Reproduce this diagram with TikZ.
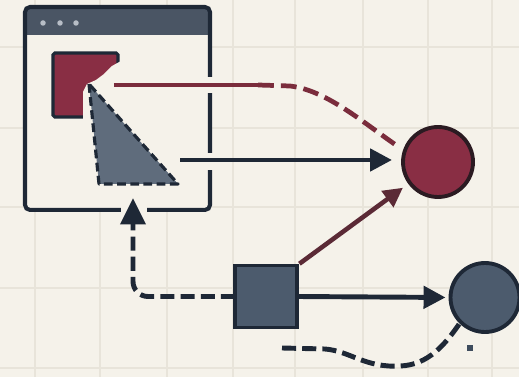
\documentclass[tikz,border=0pt]{standalone}
\usetikzlibrary{arrows.meta}
\definecolor{bg}{HTML}{F5F2EA}
\definecolor{gridc}{HTML}{E8E4DA}
\definecolor{ink}{HTML}{1E2836}
\definecolor{inkred}{HTML}{2B1B22}
\definecolor{titlec}{HTML}{4A5564}
\definecolor{slate}{HTML}{4C5B6D}
\definecolor{trig}{HTML}{5F6C7C}
\definecolor{redf}{HTML}{892E44}
\definecolor{redl}{HTML}{7A2C3C}
\definecolor{maroon}{HTML}{5B2A36}
\definecolor{dotc}{HTML}{B7BDC6}
\begin{document}
\begin{tikzpicture}[x=0.02cm,y=-0.02cm,
  gridline/.style={draw=gridc,line width=0.6pt},
  winborder/.style={draw=ink,line width=2.3pt,rounded corners=0.1cm},
  boxshape/.style={draw=ink,line width=1.8pt,inner sep=0pt,outer sep=0pt},
  dotshape/.style={circle,line width=2.2pt,inner sep=0pt,outer sep=0pt,minimum size=1.4cm},
  navyarrow/.style={draw=ink,line width=2.8pt,-{Triangle[length=12.5pt,width=12.5pt]}},
  dasharrow/.style={draw=ink,line width=2.8pt,dash pattern=on 8pt off 3.5pt},
  redline/.style={draw=redl,line width=2.7pt},
]
\fill[bg] (0,0) rectangle (519,377);
\useasboundingbox (0,0) rectangle (519,377);
% grid
\foreach \gx in {35,100,167,233,295,363,428,492} \draw[gridline] (\gx,0) -- (\gx,377);
\foreach \gy in {47,128,207,288,368} \draw[gridline] (0,\gy) -- (519,\gy);

% window
\node[fill=bg,minimum width=3.7cm,minimum height=4.06cm,inner sep=0pt,outer sep=0pt,rounded corners=0.1cm] (win) at (117.5,108.5) {};
\begin{scope}
  \clip[rounded corners=0.1cm] (win.north west) rectangle (win.south east);
  \fill[titlec] (win.north west) rectangle ([yshift=-0.56cm]win.north east);
\end{scope}
\draw[winborder] (win.north west) rectangle (win.south east);
\foreach \dx in {43,60,76} \fill[dotc] (\dx,23) circle (0.055cm);
% gaps in the window border
\fill[bg] (204,77) rectangle (216,93);
\fill[bg] (204,153) rectangle (216,170);
\fill[bg] (121,202) rectangle (147,214);

% red square with cut corner
\node[boxshape,fill=redf,minimum width=1.3cm,minimum height=1.28cm,rounded corners=1pt] (redsq) at (85.5,85) {};
\fill[bg] (121,61) -- (112,66) -- (104,74) -- (96,80) -- (87,84) -- (83,92) -- (83,121) -- (121,121) -- cycle;

% triangle
\coordinate (ta) at (89,84);
\coordinate (tb) at (99,184);
\coordinate (tc) at (178,184);
\fill[trig] (ta) -- (tb) -- (tc) -- cycle;
\draw[ink,line width=1.8pt,dash pattern=on 5pt off 2.5pt,line join=round] (ta) -- (tb) -- (tc) -- cycle;
\coordinate (trir) at (180,160);
\coordinate (tbm) at (133,184);

% nodes on the right
\node[dotshape,draw=inkred,fill=redf] (redc) at (438,162) {};
\node[dotshape,draw=ink,fill=slate,minimum size=1.38cm] (grayc) at (485,297.5) {};
\node[boxshape,fill=slate,minimum size=1.24cm] (navsq) at (266,296.5) {};

% connectors
\coordinate (rm) at (258,85);
\draw[redline] ([xshift=-0.08cm]redsq.east) -- (rm);
\draw[redline,dash pattern=on 9pt off 4pt,shorten >=0.24cm] (rm) -- (290,86) .. controls (325,90) and (360,120) .. (redc.162);
\draw[navyarrow,shorten >=0.22cm] (trir) -- (trir -| redc.west);
\draw[draw=maroon,line width=2.6pt,-{Triangle[length=11pt,width=11pt]},shorten <=0.06cm,shorten >=0.17cm] (navsq.north east) -- (redc);
\draw[navyarrow,shorten >=0.1cm] (navsq.east) -- (grayc.west);
\draw[dasharrow,rounded corners=0.3cm,-{Triangle[length=15pt,width=14pt]},shorten >=0.28cm] (navsq.west) -| (tbm);
\coordinate (bs) at (282,348);
\draw[dasharrow] (bs) -- (325,349) .. controls (350,351) and (365,368) .. (400,366) .. controls (428,365) and (445,345) .. (grayc.225);
\fill[slate!70!ink] (467,345) rectangle (473,351);
\end{tikzpicture}
\end{document}
